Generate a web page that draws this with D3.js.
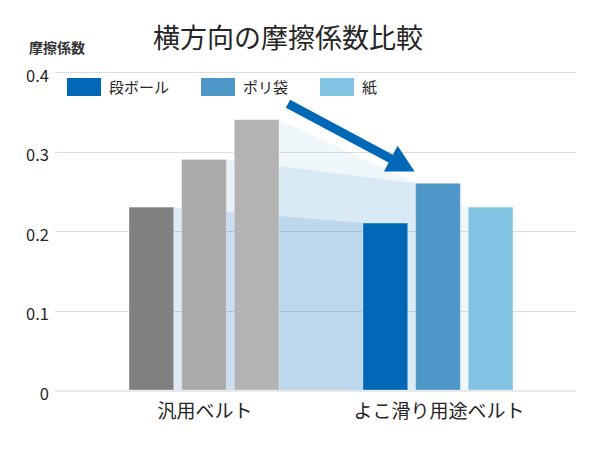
<!DOCTYPE html>
<html><head><meta charset="utf-8">
<script src="https://cdn.jsdelivr.net/npm/d3@7"></script>
<style>
html,body{margin:0;padding:0;background:#fff;}
text{font-family:"Noto Sans CJK JP","Noto Sans",sans-serif;}
</style></head>
<body>
<svg id="chart" width="601" height="450"></svg>
<script>
// ---- data ----
const categories = ["汎用ベルト", "よこ滑り用途ベルト"];
const seriesNames = ["段ボール", "ポリ袋", "紙"];
const generalBelt = [0.23, 0.29, 0.34];
const sideSlideBelt = [0.21, 0.26, 0.23];
const yTicks = [0, 0.1, 0.2, 0.3, 0.4];
const yTickLabels = ["0", "0.1", "0.2", "0.3", "0.4"];
const title = "横方向の摩擦係数比較";
const yTitle = "摩擦係数";
const grayColors = ["#808080", "#aaabaa", "#b3b3b3"];
const blueColors = ["#0068b7", "#4f96c9", "#82c2e3"];
// arrow annotation (data space): from / to values
const arrowFromValue = 0.36, arrowToValue = 0.275;

const svg = d3.select("#chart");
const gridLeft = 55, gridRight = 576;
const textColor = "#262626";

const y = d3.scaleLinear().domain([0, 0.4]).range([390, 72]);
const x0 = d3.scaleBand().domain(categories).range([gridLeft, gridRight])
  .paddingInner(0.359).paddingOuter(0.293).align(0.54);
const x1 = d3.scaleBand().domain(seriesNames).range([0, x0.bandwidth()])
  .paddingInner(0.15).paddingOuter(0);

const values = [generalBelt, sideSlideBelt];
const colors = [grayColors, blueColors];

// title
svg.append("text").attr("x", 288).attr("y", 48).attr("text-anchor", "middle")
  .attr("font-size", 27).attr("fill", textColor).text(title);
svg.append("text").attr("x", 29).attr("y", 53)
  .attr("font-size", 14).attr("font-weight", "bold").attr("fill", "#333").text(yTitle);

// grid
const grid = svg.append("g");
yTicks.forEach((t) => {
  if (t === 0) return;
  grid.append("line").attr("x1", gridLeft).attr("x2", gridRight)
    .attr("y1", Math.round(y(t)) + 0.5).attr("y2", Math.round(y(t)) + 0.5)
    .attr("stroke", "#dcdcdc").attr("stroke-width", 1);
});
// y tick labels
yTicks.forEach((t, i) => {
  svg.append("text").attr("x", 49).attr("y", y(t) + 9.5).attr("text-anchor", "end")
    .attr("font-size", 16.5).attr("fill", textColor).text(yTickLabels[i]);
});

// connecting polygons (drawn back to front: 紙, ポリ袋, 段ボール)
const polyG = svg.append("g");
for (let i = seriesNames.length - 1; i >= 0; i--) {
  const s = seriesNames[i];
  const xa = x0(categories[0]) + x1(s) + x1.bandwidth();
  const xb = x0(categories[1]) + x1(s);
  const pts = [[xa, y(0)], [xa, y(generalBelt[i])], [xb, y(sideSlideBelt[i])], [xb, y(0)]];
  polyG.append("path").attr("d", d3.line()(pts) + "Z")
    .attr("fill", blueColors[i]).attr("fill-opacity", 0.13);
}

// baseline
svg.append("line").attr("x1", gridLeft).attr("x2", gridRight)
  .attr("y1", y(0) + 1).attr("y2", y(0) + 1)
  .attr("stroke", "#e8e8e8").attr("stroke-width", 2);

// bars
const barG = svg.append("g");
categories.forEach((c, ci) => {
  seriesNames.forEach((s, si) => {
    const v = values[ci][si];
    barG.append("rect")
      .attr("x", x0(c) + x1(s)).attr("y", y(v))
      .attr("width", x1.bandwidth()).attr("height", y(0) - y(v))
      .attr("fill", colors[ci][si])
      .attr("stroke", "#fff").attr("stroke-opacity", 0.3).attr("stroke-width", 1);
  });
});

// x labels
categories.forEach(c => {
  svg.append("text").attr("x", x0(c) + x0.bandwidth() / 2 + 1).attr("y", 418)
    .attr("text-anchor", "middle").attr("font-size", 19)
    .attr("fill", textColor).text(c);
});

// arrow
const ax1 = x0(categories[0]) + x1(seriesNames[2]) + x1.bandwidth() + 9;
const ay1 = y(arrowFromValue);
const ax2 = x0(categories[1]) + x1(seriesNames[1]) - 1;
const ay2 = y(arrowToValue);
const ang = Math.atan2(ay2 - ay1, ax2 - ax1);
const headLen = 27, headHalf = 14.5;
const bx = ax2 - headLen * Math.cos(ang), by = ay2 - headLen * Math.sin(ang);
const px = -Math.sin(ang), py = Math.cos(ang);
svg.append("line").attr("x1", ax1).attr("y1", ay1)
  .attr("x2", bx + 1 * Math.cos(ang)).attr("y2", by + 1 * Math.sin(ang))
  .attr("stroke", "#0068b7").attr("stroke-width", 9);
svg.append("path").attr("d", d3.line()([[ax2, ay2], [bx + px * headHalf, by + py * headHalf], [bx - px * headHalf, by - py * headHalf]]) + "Z")
  .attr("fill", "#0068b7");

// legend
const leg = svg.append("g");
let lx = 67;
seriesNames.forEach((s, i) => {
  leg.append("rect").attr("x", lx).attr("y", 78).attr("width", 34).attr("height", 18)
    .attr("fill", blueColors[i]);
  const t = leg.append("text").attr("x", lx + 42).attr("y", 92.5)
    .attr("font-size", 15).attr("fill", textColor).text(s);
  const tw = t.node().getComputedTextLength();
  lx = lx + 42 + tw + 32;
});
</script>
</body></html>
